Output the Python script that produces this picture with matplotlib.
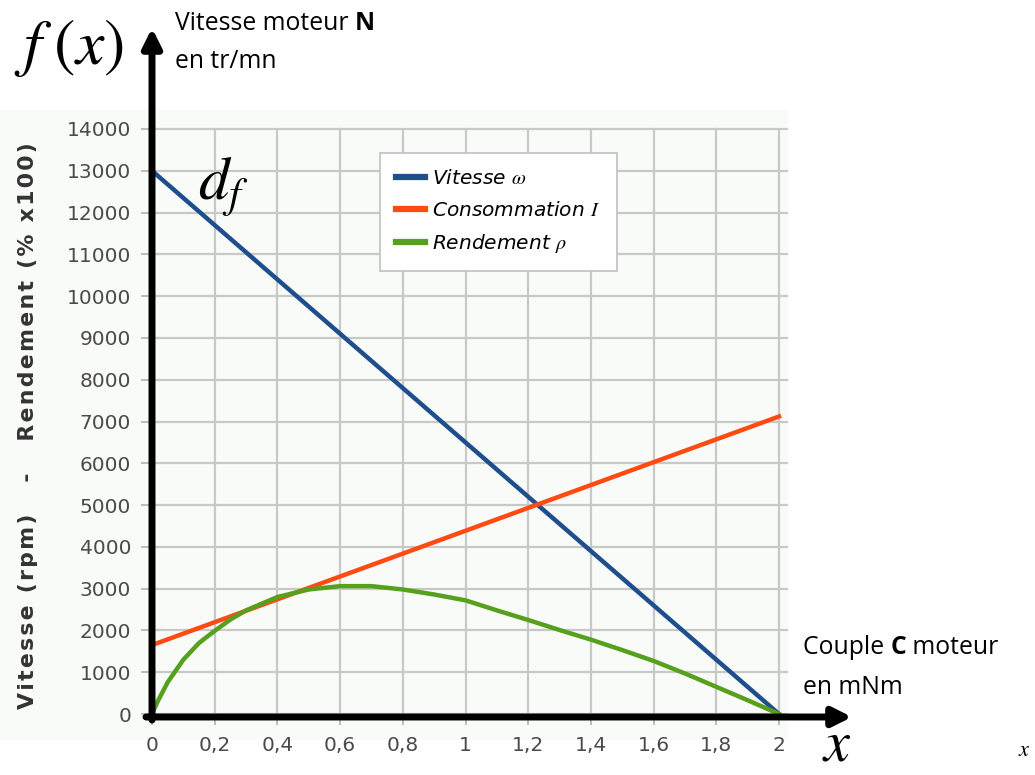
import matplotlib
matplotlib.use("Agg")
import matplotlib.pyplot as plt
from matplotlib.patches import Rectangle
from matplotlib.ticker import FixedLocator, FixedFormatter

plt.rcParams['mathtext.fontset'] = 'stix'

# ---- data ----
couple = [0.0, 2.0]
vitesse = [13000, 0]
consommation = [1650, 7120]

couple_r = [0, 0.02, 0.05, 0.1, 0.15, 0.2, 0.25, 0.3, 0.4, 0.5, 0.6, 0.7, 0.8,
            0.9, 1.0, 1.1, 1.2, 1.3, 1.4, 1.5, 1.6, 1.7, 1.8, 1.9, 2.0]
rendement = [0, 330, 760, 1300, 1700, 1990, 2260, 2480, 2800, 2980, 3060, 3060, 2980,
             2860, 2720, 2480, 2250, 2010, 1780, 1530, 1270, 970, 650, 330, 0]

xticks = [0, 0.2, 0.4, 0.6, 0.8, 1.0, 1.2, 1.4, 1.6, 1.8, 2.0]
xticklabels = ['0', '0,2', '0,4', '0,6', '0,8', '1', '1,2', '1,4', '1,6', '1,8', '2']
yticks = list(range(0, 14001, 1000))

legend_labels = ['Vitesse $\\omega$', 'Consommation $I$', 'Rendement $\\rho$']
colors = ['#1f4e8c', '#ff4a12', '#56a01e']
ylabel_text = 'Vitesse (rpm)   -   Rendement (% x100)'

W, H = 1035, 775
fig = plt.figure(figsize=(W / 100, H / 100), dpi=100)
fig.patch.set_facecolor('white')

def fx(px):
    return px / W

def fy(py):
    return 1 - py / H

# chart background panel
bg = Rectangle((0, fy(740)), fx(788), fy(110) - fy(740),
               transform=fig.transFigure, facecolor='#f9fbf9',
               edgecolor='none', zorder=-10)
fig.patches.append(bg)

x0, x2 = 152, 779
xr = 787
ax = fig.add_axes([fx(x0), fy(714), fx(xr - x0), fy(129) - fy(714)])
ax.set_facecolor('none')
ax.set_xlim(0, 2 * (xr - x0) / (x2 - x0))
ax.set_ylim(0, 14000)
for s in ax.spines.values():
    s.set_visible(False)

ax.xaxis.set_major_locator(FixedLocator(xticks))
ax.xaxis.set_major_formatter(FixedFormatter(xticklabels))
ax.yaxis.set_major_locator(FixedLocator(yticks))
ax.set_axisbelow(True)
ax.grid(True, color='#c8c8c8', lw=1.6)
for gl in ax.get_ygridlines() + ax.get_xgridlines():
    gl.set_clip_on(False)
ax.tick_params(axis='both', color='#b0b0b0', length=8, width=1.2,
               labelcolor='#4a4a4a', labelsize=14.5, pad=7)
ax.tick_params(axis='x', pad=8)

ax.plot(couple, vitesse, color=colors[0], lw=3.2, label=legend_labels[0], zorder=3)
ax.plot(couple, consommation, color=colors[1], lw=3.2, label=legend_labels[1], zorder=3)
ax.plot(couple_r, rendement, color=colors[2], lw=3.2, label=legend_labels[2], zorder=3)

leg = ax.legend(loc='upper left', frameon=True,
                prop={'style': 'italic', 'size': 14.5}, handlelength=1.45,
                handletextpad=0.35, labelspacing=0.62, borderpad=0.8,
                borderaxespad=0, fancybox=False, edgecolor='#c0c0c0', framealpha=1,
                bbox_to_anchor=(fx(380), fy(153)), bbox_transform=fig.transFigure)
leg.get_frame().set_linewidth(1.2)
for h in leg.get_lines():
    h.set_linewidth(4.5)

ax.set_ylabel('\u200a'.join(ylabel_text), fontsize=15.8,
              fontweight='bold', color='#333333')
ax.yaxis.set_label_coords(-(x0 - 38) / (xr - x0), (714 - 426) / (714 - 129))

# black arrows
ax.annotate('', xy=(x0, H - 28), xytext=(x0, H - 720), xycoords='figure pixels',
            textcoords='figure pixels',
            arrowprops=dict(arrowstyle='-|>', lw=5, color='black',
                            mutation_scale=28, shrinkA=0, shrinkB=0))
ax.annotate('', xy=(852, H - 717), xytext=(146, H - 717), xycoords='figure pixels',
            textcoords='figure pixels',
            arrowprops=dict(arrowstyle='-|>', lw=5, color='black',
                            mutation_scale=28, shrinkA=0, shrinkB=0))

# annotation texts
fig.text(fx(14), fy(48), '$f\\;(x)$', fontsize=46, va='center', ha='left')
fig.text(fx(198), fy(186), '$d_f$', fontsize=44, va='center', ha='left')
fig.text(fx(822), fy(744), '$x$', fontsize=42, va='center', ha='left')
fig.text(fx(1018), fy(750), '$x$', fontsize=16, va='center', ha='left')

fam = 'Open Sans'
fig.canvas.draw()
r = fig.canvas.get_renderer()

def mixed(xp, yp, parts, size=17.8):
    x = fx(xp)
    for txt, w in parts:
        t = fig.text(x, fy(yp), txt, fontsize=size, fontweight=w, family=fam,
                     va='center', ha='left')
        bb = t.get_window_extent(renderer=r)
        x += bb.width / W

mixed(175, 24, [('Vitesse moteur ', 'normal'), ('N', 'bold')])
mixed(175, 62, [('en tr/mn', 'normal')])
mixed(803, 648, [('Couple ', 'normal'), ('C', 'bold'), (' moteur', 'normal')])
mixed(803, 688, [('en mNm', 'normal')])

fig.savefig('out.png', dpi=100)
